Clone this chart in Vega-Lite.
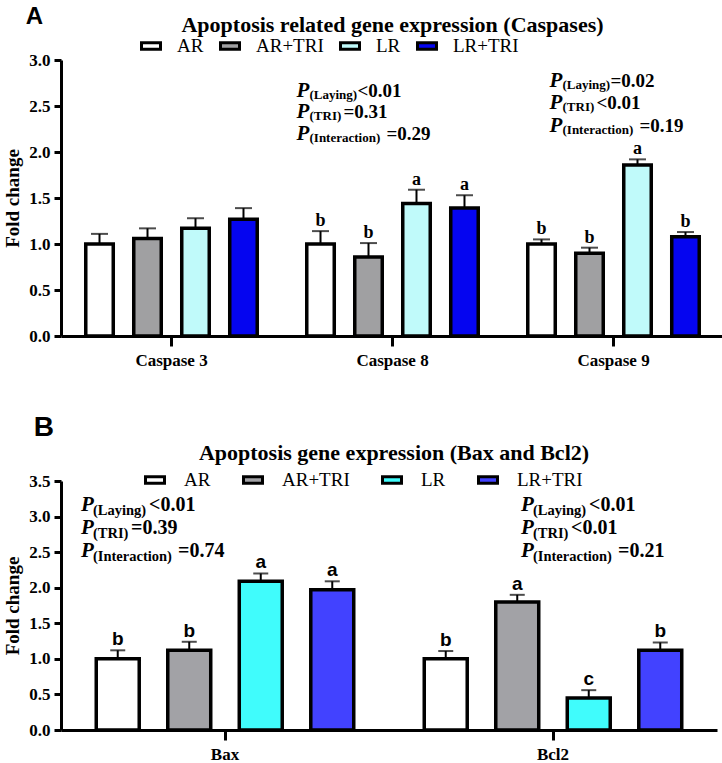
{
  "$schema": "https://vega.github.io/schema/vega-lite/v6.json",
  "padding": {"left": 3, "right": 0, "top": 5, "bottom": 0},
  "background": "white",
  "config": {
    "view": {"stroke": null},
    "font": "Liberation Serif",
    "axis": {"domainColor": "black", "domainWidth": 3, "tickColor": "black", "tickWidth": 3, "labelColor": "black", "labelFont": "Liberation Serif", "labelFontWeight": "bold", "labelFontSize": 17, "titleColor": "black", "titleFont": "Liberation Serif", "titleFontWeight": "bold", "titleFontSize": 19, "grid": false},
    "axisY": {"tickSize": 7, "labelPadding": 4, "titlePadding": 6, "labelOverlap": false, "labelFlush": false},
    "axisX": {"tickSize": 10, "labelPadding": 6, "labelAngle": 0},
    "legend": {"orient": "none", "direction": "horizontal", "columns": 4, "symbolType": "M-1,-0.35H1V0.35H-1Z", "symbolSize": 361, "symbolStrokeColor": "black", "symbolStrokeWidth": 3, "symbolOpacity": 1, "labelFont": "Liberation Serif", "labelFontSize": 18, "labelColor": "black"}
  },
  "datasets": {
    "barsA": [
      {"gene": "Caspase 3", "group": "AR", "mean": 1.00, "upper": 1.11, "letter": ""},
      {"gene": "Caspase 3", "group": "AR+TRI", "mean": 1.06, "upper": 1.17, "letter": ""},
      {"gene": "Caspase 3", "group": "LR", "mean": 1.17, "upper": 1.28, "letter": ""},
      {"gene": "Caspase 3", "group": "LR+TRI", "mean": 1.27, "upper": 1.39, "letter": ""},
      {"gene": "Caspase 8", "group": "AR", "mean": 1.00, "upper": 1.14, "letter": "b"},
      {"gene": "Caspase 8", "group": "AR+TRI", "mean": 0.86, "upper": 1.01, "letter": "b"},
      {"gene": "Caspase 8", "group": "LR", "mean": 1.44, "upper": 1.59, "letter": "a"},
      {"gene": "Caspase 8", "group": "LR+TRI", "mean": 1.39, "upper": 1.53, "letter": "a"},
      {"gene": "Caspase 9", "group": "AR", "mean": 1.00, "upper": 1.05, "letter": "b"},
      {"gene": "Caspase 9", "group": "AR+TRI", "mean": 0.90, "upper": 0.96, "letter": "b"},
      {"gene": "Caspase 9", "group": "LR", "mean": 1.86, "upper": 1.92, "letter": "a"},
      {"gene": "Caspase 9", "group": "LR+TRI", "mean": 1.08, "upper": 1.13, "letter": "b"}
    ],
    "annA": [
      {"gene": "Caspase 8", "sub": "(Laying)", "val": "<0.01", "yv": 2.60},
      {"gene": "Caspase 8", "sub": "(TRI)", "val": "=0.31", "yv": 2.37},
      {"gene": "Caspase 8", "sub": "(Interaction)", "val": "=0.29", "yv": 2.13},
      {"gene": "Caspase 9", "sub": "(Laying)", "val": "=0.02", "yv": 2.71},
      {"gene": "Caspase 9", "sub": "(TRI)", "val": "<0.01", "yv": 2.47},
      {"gene": "Caspase 9", "sub": "(Interaction)", "val": "=0.19", "yv": 2.22}
    ],
    "barsB": [
      {"gene": "Bax", "group": "AR", "mean": 1.00, "upper": 1.12, "letter": "b"},
      {"gene": "Bax", "group": "AR+TRI", "mean": 1.12, "upper": 1.24, "letter": "b"},
      {"gene": "Bax", "group": "LR", "mean": 2.09, "upper": 2.20, "letter": "a"},
      {"gene": "Bax", "group": "LR+TRI", "mean": 1.97, "upper": 2.09, "letter": "a"},
      {"gene": "Bcl2", "group": "AR", "mean": 1.00, "upper": 1.11, "letter": "b"},
      {"gene": "Bcl2", "group": "AR+TRI", "mean": 1.80, "upper": 1.90, "letter": "a"},
      {"gene": "Bcl2", "group": "LR", "mean": 0.45, "upper": 0.56, "letter": "c"},
      {"gene": "Bcl2", "group": "LR+TRI", "mean": 1.12, "upper": 1.23, "letter": "b"}
    ],
    "annB": [
      {"gene": "Bax", "sub": "(Laying)", "val": "<0.01", "yv": 3.08},
      {"gene": "Bax", "sub": "(TRI)", "val": "=0.39", "yv": 2.75},
      {"gene": "Bax", "sub": "(Interaction)", "val": "=0.74", "yv": 2.43},
      {"gene": "Bcl2", "sub": "(Laying)", "val": "<0.01", "yv": 3.08},
      {"gene": "Bcl2", "sub": "(TRI)", "val": "<0.01", "yv": 2.75},
      {"gene": "Bcl2", "sub": "(Interaction)", "val": "=0.21", "yv": 2.43}
    ]
  },
  "resolve": {"scale": {"x": "independent", "y": "independent", "fill": "independent", "xOffset": "independent"}, "legend": {"fill": "independent"}},
  "spacing": 46,
  "vconcat": [
    {
      "title": {"text": "A", "anchor": "start", "frame": "bounds", "font": "Liberation Sans", "fontSize": 24, "fontWeight": "bold", "color": "black", "offset": -15, "dx": 22},
      "vconcat": [
        {
          "width": 663,
          "height": 276,
          "title": {"text": "Apoptosis related gene expression (Caspases)", "anchor": "middle", "frame": "group", "font": "Liberation Serif", "fontSize": 22, "fontWeight": "bold", "color": "black", "offset": 14},
          "layer": [
            {
              "data": {"name": "barsA"},
              "mark": {"type": "rule", "color": "black", "strokeWidth": 2},
              "encoding": {
                "x": {"field": "gene", "type": "nominal", "title": null, "scale": {"paddingInner": 0, "paddingOuter": 0}},
                "xOffset": {"field": "group", "type": "nominal", "scale": {"paddingInner": 0.427, "paddingOuter": 0.516}},
                "y": {"field": "mean", "type": "quantitative", "title": "Fold change", "scale": {"domain": [0, 3], "nice": false}, "axis": {"values": [0, 0.5, 1, 1.5, 2, 2.5, 3], "format": ".1f", "labelOverlap": false}},
                "y2": {"field": "upper"}
              }
            },
            {
              "data": {"name": "barsA"},
              "mark": {"type": "tick", "color": "black", "thickness": 2, "size": 17},
              "encoding": {
                "x": {"field": "gene", "type": "nominal", "title": null},
                "xOffset": {"field": "group", "type": "nominal"},
                "y": {"field": "upper", "type": "quantitative", "title": "Fold change", "axis": {"values": [0, 0.5, 1, 1.5, 2, 2.5, 3], "format": ".1f", "labelOverlap": false}}
              }
            },
            {
              "data": {"name": "barsA"},
              "mark": {"type": "bar", "stroke": "black", "strokeWidth": 3.5, "opacity": 1},
              "encoding": {
                "x": {"field": "gene", "type": "nominal", "title": null},
                "xOffset": {"field": "group", "type": "nominal"},
                "y": {"field": "mean", "type": "quantitative", "title": "Fold change", "axis": {"values": [0, 0.5, 1, 1.5, 2, 2.5, 3], "format": ".1f", "labelOverlap": false}},
                "fill": {"field": "group", "type": "nominal", "scale": {"domain": ["AR", "AR+TRI", "LR", "LR+TRI"], "range": ["#ffffff", "#a0a0a2", "#c0fafa", "#0505f0"]}, "legend": {"title": null, "legendX": 79, "legendY": -25, "labelOffset": 15, "columnPadding": 10, "labelFontSize": 19}}
              }
            },
            {
              "data": {"name": "barsA"},
              "mark": {"type": "text", "font": "Liberation Serif", "fontWeight": "bold", "fontSize": 18, "color": "black", "baseline": "alphabetic", "dy": -5},
              "encoding": {
                "x": {"field": "gene", "type": "nominal", "title": null},
                "xOffset": {"field": "group", "type": "nominal"},
                "y": {"field": "upper", "type": "quantitative", "title": "Fold change", "axis": {"values": [0, 0.5, 1, 1.5, 2, 2.5, 3], "format": ".1f", "labelOverlap": false}},
                "text": {"field": "letter"}
              }
            },
            {
              "data": {"name": "annA"},
              "mark": {"type": "text", "text": "P", "font": "Liberation Serif", "fontWeight": "bold", "fontStyle": "italic", "fontSize": 21, "color": "black", "align": "left", "baseline": "alphabetic", "dx": {"expr": "datum.gene == 'Caspase 8' ? -96 : -64"}},
              "encoding": {
                "x": {"field": "gene", "type": "nominal", "title": null},
                "y": {"field": "yv", "type": "quantitative", "title": "Fold change", "axis": {"values": [0, 0.5, 1, 1.5, 2, 2.5, 3], "format": ".1f", "labelOverlap": false}}
              }
            },
            {
              "data": {"name": "annA"},
              "mark": {"type": "text", "font": "Liberation Serif", "fontWeight": "bold", "fontSize": 13, "color": "black", "align": "left", "baseline": "alphabetic", "dy": 2, "dx": {"expr": "(datum.gene == 'Caspase 8' ? -96 : -64) + 13"}},
              "encoding": {
                "x": {"field": "gene", "type": "nominal", "title": null},
                "y": {"field": "yv", "type": "quantitative", "title": "Fold change", "axis": {"values": [0, 0.5, 1, 1.5, 2, 2.5, 3], "format": ".1f", "labelOverlap": false}},
                "text": {"field": "sub"}
              }
            },
            {
              "data": {"name": "annA"},
              "mark": {"type": "text", "font": "Liberation Serif", "fontWeight": "bold", "fontSize": 19, "color": "black", "align": "left", "baseline": "alphabetic", "dx": {"expr": "(datum.gene == 'Caspase 8' ? -96 : -64) + (datum.sub == '(Laying)' ? 61 : datum.sub == '(TRI)' ? 47 : 90)"}},
              "encoding": {
                "x": {"field": "gene", "type": "nominal", "title": null},
                "y": {"field": "yv", "type": "quantitative", "title": "Fold change", "axis": {"values": [0, 0.5, 1, 1.5, 2, 2.5, 3], "format": ".1f", "labelOverlap": false}},
                "text": {"field": "val"}
              }
            }
          ]
        }
      ]
    },
    {
      "title": {"text": "B", "anchor": "start", "frame": "bounds", "font": "Liberation Sans", "fontSize": 28, "fontWeight": "bold", "color": "black", "offset": 0, "dx": 30},
      "vconcat": [
        {
          "width": 656,
          "height": 249,
          "title": {"text": "Apoptosis gene expression (Bax and Bcl2)", "anchor": "middle", "frame": "group", "font": "Liberation Serif", "fontSize": 22, "fontWeight": "bold", "color": "black", "offset": 7, "dx": 5},
          "layer": [
            {
              "data": {"name": "barsB"},
              "mark": {"type": "rule", "color": "black", "strokeWidth": 2},
              "encoding": {
                "x": {"field": "gene", "type": "nominal", "title": null, "scale": {"paddingInner": 0, "paddingOuter": 0}},
                "xOffset": {"field": "group", "type": "nominal", "scale": {"paddingInner": 0.399, "paddingOuter": 0.493}},
                "y": {"field": "mean", "type": "quantitative", "title": "Fold change", "scale": {"domain": [0, 3.5], "nice": false}, "axis": {"values": [0, 0.5, 1, 1.5, 2, 2.5, 3, 3.5], "format": ".1f", "labelOverlap": false}},
                "y2": {"field": "upper"}
              }
            },
            {
              "data": {"name": "barsB"},
              "mark": {"type": "tick", "color": "black", "thickness": 2, "size": 15},
              "encoding": {
                "x": {"field": "gene", "type": "nominal", "title": null},
                "xOffset": {"field": "group", "type": "nominal"},
                "y": {"field": "upper", "type": "quantitative", "title": "Fold change", "axis": {"values": [0, 0.5, 1, 1.5, 2, 2.5, 3, 3.5], "format": ".1f", "labelOverlap": false}}
              }
            },
            {
              "data": {"name": "barsB"},
              "mark": {"type": "bar", "stroke": "black", "strokeWidth": 3.5, "opacity": 1},
              "encoding": {
                "x": {"field": "gene", "type": "nominal", "title": null},
                "xOffset": {"field": "group", "type": "nominal"},
                "y": {"field": "mean", "type": "quantitative", "title": "Fold change", "axis": {"values": [0, 0.5, 1, 1.5, 2, 2.5, 3, 3.5], "format": ".1f", "labelOverlap": false}},
                "fill": {"field": "group", "type": "nominal", "scale": {"domain": ["AR", "AR+TRI", "LR", "LR+TRI"], "range": ["#ffffff", "#a2a2a6", "#40fcfc", "#4242ff"]}, "legend": {"title": null, "legendX": 83, "legendY": -12, "labelOffset": 18, "columnPadding": 26, "labelFontSize": 19}}
              }
            },
            {
              "data": {"name": "barsB"},
              "mark": {"type": "text", "font": "Liberation Sans", "fontWeight": "bold", "fontSize": 19, "color": "black", "baseline": "alphabetic", "dy": -5},
              "encoding": {
                "x": {"field": "gene", "type": "nominal", "title": null},
                "xOffset": {"field": "group", "type": "nominal"},
                "y": {"field": "upper", "type": "quantitative", "title": "Fold change", "axis": {"values": [0, 0.5, 1, 1.5, 2, 2.5, 3, 3.5], "format": ".1f", "labelOverlap": false}},
                "text": {"field": "letter"}
              }
            },
            {
              "data": {"name": "annB"},
              "mark": {"type": "text", "text": "P", "font": "Liberation Serif", "fontWeight": "bold", "fontStyle": "italic", "fontSize": 21, "color": "black", "align": "left", "baseline": "alphabetic", "dx": {"expr": "datum.gene == 'Bax' ? -144 : -32"}},
              "encoding": {
                "x": {"field": "gene", "type": "nominal", "title": null},
                "y": {"field": "yv", "type": "quantitative", "title": "Fold change", "axis": {"values": [0, 0.5, 1, 1.5, 2, 2.5, 3, 3.5], "format": ".1f", "labelOverlap": false}}
              }
            },
            {
              "data": {"name": "annB"},
              "mark": {"type": "text", "font": "Liberation Serif", "fontWeight": "bold", "fontSize": 14.5, "color": "black", "align": "left", "baseline": "alphabetic", "dy": 4, "dx": {"expr": "(datum.gene == 'Bax' ? -144 : -32) + 12"}},
              "encoding": {
                "x": {"field": "gene", "type": "nominal", "title": null},
                "y": {"field": "yv", "type": "quantitative", "title": "Fold change", "axis": {"values": [0, 0.5, 1, 1.5, 2, 2.5, 3, 3.5], "format": ".1f", "labelOverlap": false}},
                "text": {"field": "sub"}
              }
            },
            {
              "data": {"name": "annB"},
              "mark": {"type": "text", "font": "Liberation Serif", "fontWeight": "bold", "fontSize": 20, "color": "black", "align": "left", "baseline": "alphabetic", "dx": {"expr": "(datum.gene == 'Bax' ? -144 : -32) + (datum.sub == '(Laying)' ? 68 : datum.sub == '(TRI)' ? 50 : 97)"}},
              "encoding": {
                "x": {"field": "gene", "type": "nominal", "title": null},
                "y": {"field": "yv", "type": "quantitative", "title": "Fold change", "axis": {"values": [0, 0.5, 1, 1.5, 2, 2.5, 3, 3.5], "format": ".1f", "labelOverlap": false}},
                "text": {"field": "val"}
              }
            }
          ]
        }
      ]
    }
  ]
}
